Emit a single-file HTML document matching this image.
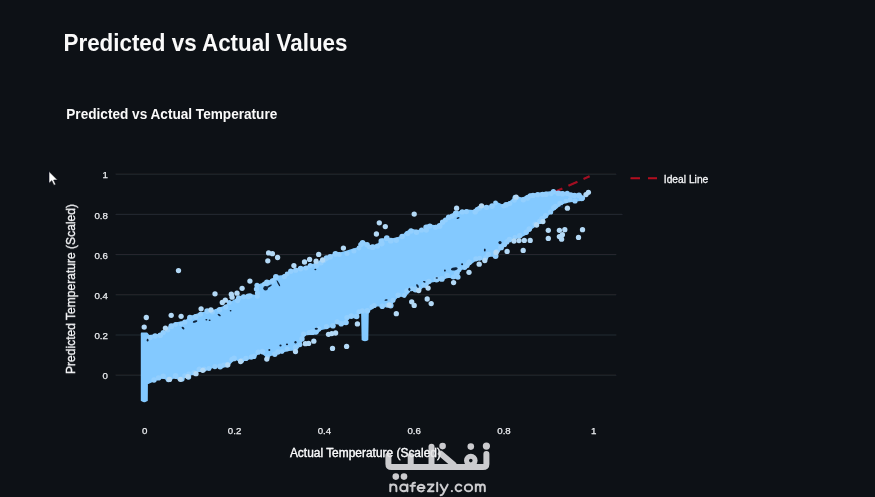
<!DOCTYPE html>
<html><head><meta charset="utf-8"><title>Predicted vs Actual Values</title>
<style>
html,body{margin:0;padding:0;background:#0d1116;}
body{width:875px;height:497px;overflow:hidden;font-family:"Liberation Sans",sans-serif;}
svg{display:block;}
text{font-family:"Liberation Sans",sans-serif;}
</style></head><body>
<svg width="875" height="497" viewBox="0 0 875 497">
<defs>
<filter id="soft" x="-5%" y="-5%" width="110%" height="110%"><feGaussianBlur stdDeviation="0.6"/></filter>
<filter id="soft2" x="-5%" y="-20%" width="110%" height="140%"><feGaussianBlur stdDeviation="0.4"/></filter>
<filter id="soft3" x="-5%" y="-50%" width="110%" height="200%"><feGaussianBlur stdDeviation="0.5"/></filter>
</defs>
<rect width="875" height="497" fill="#0d1116"/>
<!-- headings -->
<g filter="url(#soft2)">
<text x="63.5" y="50.8" font-size="24" font-weight="700" fill="#fafafa" textLength="284" lengthAdjust="spacingAndGlyphs">Predicted vs Actual Values</text>
<text x="66.3" y="118.7" font-size="14" font-weight="700" fill="#fafafa" textLength="211" lengthAdjust="spacingAndGlyphs">Predicted vs Actual Temperature</text>
</g>
<!-- grid -->
<g stroke="#272a31" stroke-width="1" filter="url(#soft3)"><line x1="115.6" x2="616.3" y1="375.2" y2="375.2"/><line x1="115.6" x2="616.3" y1="335.0" y2="335.0"/><line x1="115.6" x2="616.3" y1="294.8" y2="294.8"/><line x1="115.6" x2="616.3" y1="254.6" y2="254.6"/><line x1="115.6" x2="622.5" y1="214.4" y2="214.4"/><line x1="115.6" x2="616.3" y1="174.2" y2="174.2"/></g>
<!-- ideal line -->
<line x1="144.3" y1="375.2" x2="589.6" y2="176.3" stroke="#a31122" stroke-width="2.1" stroke-dasharray="9.9,6.6" stroke-dashoffset="14" filter="url(#soft3)"/>
<!-- scatter -->
<g filter="url(#soft)">
<g fill="#83c9ff"><polygon points="141.6,333.4 147.0,333.4 149.0,335.9 155.0,335.2 159.6,334.6 164.0,332.2 167.2,330.2 170.0,325.8 176.2,323.0 185.3,321.5 189.8,317.0 200.4,313.2 212.5,311.0 218.5,308.7 224.5,306.4 230.6,302.7 236.0,299.5 243.0,295.6 247.1,295.9 251.1,295.1 255.9,295.8 258.2,293.0 257.9,285.2 263.2,283.4 271.2,280.2 276.8,276.6 283.3,275.8 291.3,271.0 300.3,268.3 306.3,266.8 315.4,263.8 324.4,260.8 330.5,256.2 336.5,252.5 340.0,253.3 346.2,251.4 352.5,249.6 358.7,247.7 361.0,243.8 363.7,241.8 366.5,243.8 369.9,245.8 377.4,245.2 382.4,239.0 389.9,239.6 396.1,238.3 402.3,236.5 406.1,232.1 411.1,229.6 417.3,230.8 424.8,229.6 427.3,225.2 434.8,225.9 438.7,225.2 442.5,221.4 448.7,217.1 454.9,212.7 461.2,211.5 467.4,210.2 473.6,210.8 479.9,205.8 486.1,206.5 492.3,205.8 496.7,202.7 502.3,205.2 509.8,202.1 516.0,196.6 522.3,198.4 530.0,194.5 538.0,193.6 546.0,192.6 554.3,191.6 562.0,192.2 570.4,193.8 578.0,194.6 581.0,195.4 582.0,198.0 581.0,200.2 576.0,200.8 570.5,201.5 565.7,202.3 561.0,204.3 557.0,207.5 554.3,209.1 550.3,212.8 543.3,219.8 536.2,225.3 530.2,229.3 526.0,234.0 520.0,237.0 510.0,239.8 505.0,245.5 501.0,248.0 498.5,252.0 494.8,256.3 489.8,255.8 484.8,258.6 476.1,259.7 471.1,263.4 464.9,268.3 459.9,269.6 457.4,278.2 447.4,277.0 442.4,279.5 437.4,280.8 430.0,282.0 426.0,286.6 423.7,285.8 418.7,290.6 411.2,289.5 408.5,292.2 404.8,296.5 398.6,295.8 393.6,300.8 389.8,306.3 382.3,305.8 374.9,305.8 372.4,308.3 368.0,310.8 367.5,339.8 362.4,339.8 361.9,311.6 359.9,312.0 355.5,317.6 351.2,317.0 348.0,318.3 345.0,323.9 340.0,324.5 336.2,321.6 332.5,325.8 326.2,328.3 320.0,329.5 317.3,333.3 304.8,334.6 302.3,339.5 299.8,345.8 295.5,349.6 288.6,350.1 282.4,352.0 273.6,353.9 266.8,357.0 262.0,352.6 258.7,352.0 254.9,357.0 246.2,359.5 240.6,361.6 235.0,358.9 233.0,360.2 228.0,365.6 223.0,367.0 215.0,366.4 208.0,368.9 203.0,371.4 199.0,370.2 194.0,373.9 190.4,374.6 188.0,378.1 185.4,376.6 180.4,380.4 175.0,377.1 169.0,380.4 163.0,377.6 154.0,380.6 148.0,383.3 147.1,383.6 147.0,400.4 141.6,400.4" stroke="#83c9ff" stroke-width="1.6" stroke-linejoin="round"/>
<rect x="141.6" y="396" width="5.4" height="6.2" rx="2.6"/><rect x="362.4" y="335" width="5.1" height="6.2" rx="2.5"/>
</g>
<g fill="#93cffe"><circle cx="150.2" cy="337.6" r="2.6"/><circle cx="155.1" cy="336.0" r="2.7"/><circle cx="160.3" cy="335.2" r="2.8"/><circle cx="163.2" cy="332.5" r="2.6"/><circle cx="167.7" cy="330.2" r="2.4"/><circle cx="171.3" cy="326.2" r="2.9"/><circle cx="175.6" cy="324.5" r="2.4"/><circle cx="181.1" cy="323.9" r="2.4"/><circle cx="184.8" cy="322.1" r="2.6"/><circle cx="189.9" cy="317.6" r="2.8"/><circle cx="195.7" cy="316.8" r="2.7"/><circle cx="200.5" cy="314.3" r="2.5"/><circle cx="207.1" cy="311.1" r="2.8"/><circle cx="212.4" cy="312.0" r="2.5"/><circle cx="219.5" cy="309.7" r="2.6"/><circle cx="225.7" cy="307.1" r="2.6"/><circle cx="229.3" cy="302.6" r="2.5"/><circle cx="237.6" cy="300.6" r="2.6"/><circle cx="238.7" cy="297.9" r="2.7"/><circle cx="243.6" cy="296.7" r="2.5"/><circle cx="248.3" cy="296.4" r="2.8"/><circle cx="250.1" cy="295.8" r="2.5"/><circle cx="257.3" cy="296.3" r="2.5"/><circle cx="257.5" cy="293.0" r="2.6"/><circle cx="256.5" cy="289.1" r="2.7"/><circle cx="257.0" cy="285.3" r="2.6"/><circle cx="264.7" cy="284.2" r="2.8"/><circle cx="266.9" cy="282.3" r="2.8"/><circle cx="272.5" cy="280.9" r="2.7"/><circle cx="275.9" cy="277.0" r="2.9"/><circle cx="284.4" cy="276.6" r="2.6"/><circle cx="287.1" cy="273.9" r="2.4"/><circle cx="290.8" cy="271.3" r="2.7"/><circle cx="295.7" cy="270.2" r="2.6"/><circle cx="300.6" cy="268.6" r="2.8"/><circle cx="305.9" cy="267.9" r="2.5"/><circle cx="310.3" cy="265.4" r="2.5"/><circle cx="316.5" cy="265.3" r="2.9"/><circle cx="321.0" cy="262.8" r="2.7"/><circle cx="324.0" cy="260.5" r="2.5"/><circle cx="326.5" cy="258.1" r="2.8"/><circle cx="330.2" cy="256.7" r="2.8"/><circle cx="335.4" cy="253.9" r="2.8"/><circle cx="339.3" cy="254.5" r="2.5"/><circle cx="347.0" cy="253.4" r="2.5"/><circle cx="353.9" cy="251.0" r="2.5"/><circle cx="359.0" cy="248.0" r="2.4"/><circle cx="360.8" cy="244.6" r="2.6"/><circle cx="362.6" cy="242.8" r="2.8"/><circle cx="367.1" cy="244.8" r="2.7"/><circle cx="369.1" cy="247.1" r="2.4"/><circle cx="372.6" cy="247.2" r="2.9"/><circle cx="377.4" cy="246.1" r="2.7"/><circle cx="381.8" cy="243.6" r="2.8"/><circle cx="381.2" cy="241.0" r="2.7"/><circle cx="386.8" cy="238.2" r="2.9"/><circle cx="390.8" cy="240.7" r="2.9"/><circle cx="396.3" cy="240.2" r="2.7"/><circle cx="402.1" cy="236.5" r="2.8"/><circle cx="407.7" cy="233.6" r="2.7"/><circle cx="411.0" cy="231.0" r="2.7"/><circle cx="416.5" cy="232.2" r="2.7"/><circle cx="421.6" cy="230.0" r="2.6"/><circle cx="426.3" cy="230.1" r="2.7"/><circle cx="426.1" cy="227.3" r="2.8"/><circle cx="429.9" cy="226.1" r="2.7"/><circle cx="435.5" cy="227.3" r="2.6"/><circle cx="439.6" cy="225.9" r="2.9"/><circle cx="442.6" cy="222.2" r="2.7"/><circle cx="445.4" cy="220.0" r="2.5"/><circle cx="448.7" cy="217.3" r="2.8"/><circle cx="452.2" cy="216.1" r="2.7"/><circle cx="455.8" cy="213.5" r="2.9"/><circle cx="462.2" cy="211.9" r="2.6"/><circle cx="466.4" cy="211.6" r="2.6"/><circle cx="475.2" cy="211.8" r="2.8"/><circle cx="477.1" cy="209.4" r="2.5"/><circle cx="479.5" cy="208.2" r="2.5"/><circle cx="486.5" cy="207.4" r="2.6"/><circle cx="492.1" cy="206.1" r="2.8"/><circle cx="495.5" cy="203.0" r="2.4"/><circle cx="503.6" cy="206.2" r="2.4"/><circle cx="506.1" cy="204.8" r="2.8"/><circle cx="509.8" cy="203.4" r="2.5"/><circle cx="514.4" cy="200.2" r="2.5"/><circle cx="514.9" cy="197.5" r="2.4"/><circle cx="523.3" cy="199.7" r="2.7"/><circle cx="527.6" cy="197.8" r="2.9"/><circle cx="530.1" cy="195.7" r="2.5"/><circle cx="533.0" cy="195.4" r="2.6"/><circle cx="537.6" cy="194.7" r="2.6"/><circle cx="542.6" cy="194.5" r="2.7"/><circle cx="546.0" cy="194.3" r="2.8"/><circle cx="551.3" cy="193.8" r="2.4"/><circle cx="553.4" cy="191.7" r="2.6"/><circle cx="558.3" cy="193.3" r="2.9"/><circle cx="562.6" cy="193.7" r="2.8"/><circle cx="567.2" cy="193.4" r="2.6"/><circle cx="570.8" cy="195.0" r="2.8"/><circle cx="574.4" cy="195.5" r="2.8"/><circle cx="579.0" cy="195.3" r="2.9"/><circle cx="582.3" cy="198.1" r="2.8"/><circle cx="581.7" cy="198.6" r="2.6"/><circle cx="575.0" cy="201.0" r="2.6"/><circle cx="570.1" cy="199.6" r="2.4"/><circle cx="565.9" cy="201.1" r="2.4"/><circle cx="560.1" cy="203.6" r="2.8"/><circle cx="555.4" cy="206.3" r="2.5"/><circle cx="553.8" cy="207.7" r="2.7"/><circle cx="550.6" cy="212.0" r="2.6"/><circle cx="545.6" cy="215.8" r="2.7"/><circle cx="542.1" cy="218.9" r="2.8"/><circle cx="539.7" cy="221.4" r="2.7"/><circle cx="534.9" cy="224.0" r="2.6"/><circle cx="529.3" cy="229.1" r="2.8"/><circle cx="526.2" cy="232.2" r="2.7"/><circle cx="519.7" cy="235.7" r="2.7"/><circle cx="514.9" cy="237.3" r="2.4"/><circle cx="509.5" cy="239.6" r="2.8"/><circle cx="506.8" cy="241.9" r="2.6"/><circle cx="504.5" cy="244.6" r="2.6"/><circle cx="501.1" cy="247.4" r="2.9"/><circle cx="496.8" cy="251.3" r="2.6"/><circle cx="495.6" cy="256.0" r="2.9"/><circle cx="488.3" cy="254.5" r="2.7"/><circle cx="485.7" cy="257.7" r="2.5"/><circle cx="479.6" cy="258.2" r="2.5"/><circle cx="475.9" cy="258.8" r="2.6"/><circle cx="469.2" cy="262.2" r="2.8"/><circle cx="466.9" cy="265.6" r="2.7"/><circle cx="464.7" cy="267.3" r="2.6"/><circle cx="459.0" cy="269.4" r="2.6"/><circle cx="456.6" cy="273.5" r="2.7"/><circle cx="457.9" cy="277.1" r="2.7"/><circle cx="453.3" cy="277.1" r="2.5"/><circle cx="447.2" cy="275.5" r="2.8"/><circle cx="441.8" cy="278.9" r="2.9"/><circle cx="436.5" cy="279.5" r="2.9"/><circle cx="428.8" cy="281.5" r="2.8"/><circle cx="425.8" cy="285.5" r="2.4"/><circle cx="423.9" cy="285.3" r="2.5"/><circle cx="418.7" cy="289.1" r="2.7"/><circle cx="415.5" cy="289.5" r="2.9"/><circle cx="411.6" cy="288.8" r="2.5"/><circle cx="407.0" cy="290.9" r="2.7"/><circle cx="404.2" cy="295.5" r="2.4"/><circle cx="398.1" cy="295.2" r="2.7"/><circle cx="393.0" cy="300.3" r="2.5"/><circle cx="390.7" cy="305.5" r="2.9"/><circle cx="387.1" cy="305.4" r="2.4"/><circle cx="382.2" cy="306.2" r="2.8"/><circle cx="374.2" cy="305.5" r="2.6"/><circle cx="371.8" cy="306.9" r="2.4"/><circle cx="367.4" cy="310.8" r="2.8"/><circle cx="362.3" cy="310.9" r="2.6"/><circle cx="358.9" cy="311.8" r="2.5"/><circle cx="356.6" cy="316.5" r="2.8"/><circle cx="351.3" cy="316.1" r="2.8"/><circle cx="347.0" cy="317.6" r="2.7"/><circle cx="346.0" cy="322.5" r="2.8"/><circle cx="341.2" cy="323.7" r="2.8"/><circle cx="337.2" cy="321.8" r="2.6"/><circle cx="333.0" cy="325.8" r="2.8"/><circle cx="326.5" cy="326.6" r="2.6"/><circle cx="318.8" cy="328.9" r="2.6"/><circle cx="316.0" cy="332.1" r="2.6"/><circle cx="312.3" cy="332.2" r="2.9"/><circle cx="309.2" cy="332.5" r="2.6"/><circle cx="303.6" cy="334.0" r="2.6"/><circle cx="302.0" cy="338.9" r="2.7"/><circle cx="300.1" cy="344.8" r="2.4"/><circle cx="295.6" cy="347.6" r="2.8"/><circle cx="287.2" cy="349.1" r="2.5"/><circle cx="282.0" cy="351.6" r="2.4"/><circle cx="277.9" cy="352.0" r="2.7"/><circle cx="274.8" cy="354.2" r="2.7"/><circle cx="267.6" cy="356.9" r="2.4"/><circle cx="262.4" cy="351.6" r="2.8"/><circle cx="258.1" cy="352.2" r="2.6"/><circle cx="253.9" cy="356.4" r="2.6"/><circle cx="251.3" cy="357.1" r="2.6"/><circle cx="245.9" cy="358.4" r="2.7"/><circle cx="241.5" cy="360.4" r="2.7"/><circle cx="234.1" cy="358.4" r="2.8"/><circle cx="231.6" cy="359.5" r="2.4"/><circle cx="226.9" cy="364.7" r="2.8"/><circle cx="223.7" cy="365.0" r="2.4"/><circle cx="220.2" cy="366.5" r="2.9"/><circle cx="214.9" cy="366.6" r="2.6"/><circle cx="208.9" cy="368.5" r="2.5"/><circle cx="204.2" cy="369.1" r="2.6"/><circle cx="199.4" cy="369.2" r="2.8"/><circle cx="194.1" cy="372.7" r="2.6"/><circle cx="188.7" cy="373.9" r="2.4"/><circle cx="188.5" cy="377.0" r="2.7"/><circle cx="184.7" cy="375.8" r="2.5"/><circle cx="181.9" cy="379.1" r="2.7"/><circle cx="175.6" cy="376.0" r="2.9"/><circle cx="168.5" cy="379.5" r="2.8"/><circle cx="163.2" cy="376.2" r="2.7"/><circle cx="158.5" cy="377.9" r="2.7"/><circle cx="154.0" cy="380.0" r="2.7"/></g>
<g fill="#10233a"><ellipse cx="195.1" cy="321.5" rx="2.4" ry="1.0" transform="rotate(-20 195.1 321.5)"/><ellipse cx="183" cy="328.1" rx="1.6" ry="1.0" transform="rotate(40 183 328.1)"/><ellipse cx="219.2" cy="315" rx="1.8" ry="0.9" transform="rotate(35 219.2 315)"/><ellipse cx="206.4" cy="319.8" rx="1.0" ry="0.8" transform="rotate(0 206.4 319.8)"/><ellipse cx="209.6" cy="320.2" rx="1.0" ry="0.8" transform="rotate(0 209.6 320.2)"/><ellipse cx="230.6" cy="310.8" rx="0.9" ry="0.7" transform="rotate(0 230.6 310.8)"/><ellipse cx="147.6" cy="340.2" rx="0.9" ry="1.4" transform="rotate(0 147.6 340.2)"/><ellipse cx="265.6" cy="288.3" rx="2.3" ry="2.2" transform="rotate(0 265.6 288.3)"/><ellipse cx="269.2" cy="286.2" rx="3.0" ry="0.8" transform="rotate(-30 269.2 286.2)"/><ellipse cx="278.4" cy="283.3" rx="0.7" ry="3.4" transform="rotate(-28 278.4 283.3)"/><ellipse cx="315.4" cy="269.5" rx="1.0" ry="0.8" transform="rotate(0 315.4 269.5)"/><ellipse cx="458.1" cy="218" rx="1.5" ry="0.8" transform="rotate(-15 458.1 218)"/><ellipse cx="280.5" cy="345.5" rx="1.1" ry="0.9" transform="rotate(0 280.5 345.5)"/><ellipse cx="287" cy="344.3" rx="1.1" ry="0.9" transform="rotate(0 287 344.3)"/><ellipse cx="295.5" cy="342.2" rx="1.1" ry="1.3" transform="rotate(0 295.5 342.2)"/><ellipse cx="316.3" cy="328.7" rx="1.6" ry="1.0" transform="rotate(0 316.3 328.7)"/><ellipse cx="269.3" cy="349.9" rx="1.0" ry="1.0" transform="rotate(0 269.3 349.9)"/><ellipse cx="386.1" cy="300" rx="1.6" ry="0.8" transform="rotate(-10 386.1 300)"/><ellipse cx="444.9" cy="270.6" rx="0.9" ry="1.1" transform="rotate(0 444.9 270.6)"/><ellipse cx="462.1" cy="264.3" rx="1.0" ry="1.0" transform="rotate(0 462.1 264.3)"/><ellipse cx="484.8" cy="250" rx="0.9" ry="1.5" transform="rotate(0 484.8 250)"/><ellipse cx="436.8" cy="278" rx="1.2" ry="0.8" transform="rotate(0 436.8 278)"/><ellipse cx="424.3" cy="281.8" rx="1.3" ry="0.8" transform="rotate(20 424.3 281.8)"/><ellipse cx="417.5" cy="286.1" rx="1.0" ry="2.0" transform="rotate(-30 417.5 286.1)"/><ellipse cx="409.4" cy="289.3" rx="1.0" ry="1.6" transform="rotate(0 409.4 289.3)"/><ellipse cx="454.3" cy="268.9" rx="3.4" ry="1.5" transform="rotate(-10 454.3 268.9)"/><ellipse cx="500" cy="242.6" rx="1.6" ry="1.6" transform="rotate(0 500 242.6)"/><ellipse cx="561.8" cy="206.6" rx="1.5" ry="1.5" transform="rotate(0 561.8 206.6)"/></g>
<g fill="#b3d9f6"><circle cx="146.3" cy="317.5" r="2.65"/><circle cx="144.2" cy="327.1" r="2.65"/><circle cx="171.2" cy="315.3" r="2.65"/><circle cx="181.1" cy="316.3" r="2.65"/><circle cx="165.4" cy="328.1" r="2.65"/><circle cx="201.1" cy="308.8" r="2.65"/><circle cx="210.9" cy="310.0" r="2.65"/><circle cx="215.0" cy="293.8" r="2.65"/><circle cx="222.3" cy="302.5" r="2.65"/><circle cx="225.3" cy="300.2" r="2.65"/><circle cx="231.3" cy="294.2" r="2.65"/><circle cx="232.1" cy="297.2" r="2.65"/><circle cx="237.0" cy="293.2" r="2.65"/><circle cx="242.1" cy="288.3" r="2.65"/><circle cx="249.9" cy="281.1" r="2.65"/><circle cx="178.5" cy="270.6" r="2.65"/><circle cx="268.6" cy="252.9" r="2.65"/><circle cx="272.4" cy="253.7" r="2.65"/><circle cx="267.8" cy="260.8" r="2.65"/><circle cx="277.6" cy="257.5" r="2.65"/><circle cx="293.9" cy="265.6" r="2.65"/><circle cx="304.5" cy="262.0" r="2.65"/><circle cx="309.6" cy="259.4" r="2.65"/><circle cx="318.7" cy="254.4" r="2.65"/><circle cx="316.1" cy="261.2" r="2.65"/><circle cx="322.6" cy="260.0" r="2.65"/><circle cx="343.4" cy="248.1" r="2.65"/><circle cx="379.3" cy="222.8" r="2.65"/><circle cx="385.3" cy="226.6" r="2.65"/><circle cx="376.4" cy="234.0" r="2.65"/><circle cx="414.2" cy="214.1" r="2.65"/><circle cx="456.6" cy="208.2" r="2.65"/><circle cx="481.5" cy="205.8" r="2.65"/><circle cx="516.1" cy="197.2" r="2.65"/><circle cx="180.4" cy="379.3" r="2.65"/><circle cx="187.9" cy="376.6" r="2.65"/><circle cx="196.0" cy="373.7" r="2.65"/><circle cx="202.8" cy="370.3" r="2.65"/><circle cx="227.8" cy="364.8" r="2.65"/><circle cx="169.5" cy="379.4" r="2.65"/><circle cx="240.6" cy="361.5" r="2.65"/><circle cx="266.8" cy="359.1" r="2.65"/><circle cx="295.5" cy="351.6" r="2.65"/><circle cx="305.4" cy="343.7" r="2.65"/><circle cx="308.6" cy="343.4" r="2.65"/><circle cx="313.8" cy="341.2" r="2.65"/><circle cx="328.5" cy="334.3" r="2.65"/><circle cx="331.8" cy="333.6" r="2.65"/><circle cx="335.6" cy="333.0" r="2.65"/><circle cx="357.4" cy="323.9" r="2.65"/><circle cx="332.5" cy="348.4" r="2.65"/><circle cx="346.6" cy="346.4" r="2.65"/><circle cx="396.3" cy="313.7" r="2.65"/><circle cx="411.7" cy="301.8" r="2.65"/><circle cx="414.2" cy="305.4" r="2.65"/><circle cx="389.2" cy="305.0" r="2.65"/><circle cx="427.2" cy="299.0" r="2.65"/><circle cx="431.2" cy="303.6" r="2.65"/><circle cx="418.7" cy="290.6" r="2.65"/><circle cx="428.1" cy="288.1" r="2.65"/><circle cx="453.6" cy="282.6" r="2.65"/><circle cx="469.0" cy="272.3" r="2.65"/><circle cx="479.2" cy="264.2" r="2.65"/><circle cx="484.8" cy="260.5" r="2.65"/><circle cx="507.1" cy="251.4" r="2.65"/><circle cx="496.0" cy="252.4" r="2.65"/><circle cx="514.0" cy="241.0" r="2.65"/><circle cx="519.0" cy="240.6" r="2.65"/><circle cx="524.3" cy="240.4" r="2.65"/><circle cx="530.2" cy="240.4" r="2.65"/><circle cx="523.2" cy="250.4" r="2.65"/><circle cx="536.6" cy="225.0" r="2.65"/><circle cx="542.9" cy="221.6" r="2.65"/><circle cx="548.3" cy="230.3" r="2.65"/><circle cx="548.3" cy="238.4" r="2.65"/><circle cx="559.4" cy="230.3" r="2.65"/><circle cx="564.8" cy="229.7" r="2.65"/><circle cx="559.4" cy="236.6" r="2.65"/><circle cx="562.4" cy="234.7" r="2.65"/><circle cx="561.6" cy="239.2" r="2.65"/><circle cx="582.5" cy="229.7" r="2.65"/><circle cx="578.5" cy="237.4" r="2.65"/><circle cx="586.0" cy="194.6" r="2.65"/><circle cx="588.4" cy="192.3" r="2.65"/><circle cx="567.4" cy="208.2" r="2.65"/></g>
</g>
<!-- tick labels -->
<g font-size="9.7" fill="#eceef1" stroke="#eceef1" stroke-width="0.25" filter="url(#soft2)"><text x="107.9" y="379.3" text-anchor="end">0</text><text x="107.9" y="339.1" text-anchor="end">0.2</text><text x="107.9" y="298.9" text-anchor="end">0.4</text><text x="107.9" y="258.7" text-anchor="end">0.6</text><text x="107.9" y="218.5" text-anchor="end">0.8</text><text x="107.9" y="178.3" text-anchor="end">1</text><text x="144.8" y="433.7" text-anchor="middle">0</text><text x="234.6" y="433.7" text-anchor="middle">0.2</text><text x="324.4" y="433.7" text-anchor="middle">0.4</text><text x="414.2" y="433.7" text-anchor="middle">0.6</text><text x="504.0" y="433.7" text-anchor="middle">0.8</text><text x="593.8" y="433.7" text-anchor="middle">1</text></g>
<!-- legend -->
<g filter="url(#soft2)">
<line x1="630.5" x2="657" y1="178.2" y2="178.2" stroke="#b4101f" stroke-width="2" stroke-dasharray="9.5,8"/>
<text x="663.8" y="182.6" font-size="11" fill="#f4f5f7" stroke="#f4f5f7" stroke-width="0.3" textLength="44.5" lengthAdjust="spacingAndGlyphs">Ideal Line</text>
</g>
<!-- mouse cursor -->
<g transform="translate(49.0,171.4)" filter="url(#soft2)">
<path d="M0,0 L0,11.8 L2.8,9.3 L4.9,13.8 L6.7,13 L4.7,8.7 L8.5,8.5 Z" fill="#ffffff" stroke="#0e1117" stroke-width="0.6"/>
</g>
<!-- axis titles -->
<g font-size="12.5" fill="#f4f5f7" stroke="#f4f5f7" stroke-width="0.3" filter="url(#soft2)">
<text x="289.9" y="457" textLength="151" lengthAdjust="spacingAndGlyphs">Actual Temperature (Scaled)</text>
<text transform="translate(75,374.1) rotate(-90)" textLength="170" lengthAdjust="spacingAndGlyphs">Predicted Temperature (Scaled)</text>
</g>
<!-- watermark -->
<g filter="url(#soft2)" opacity="0.95">
<g fill="none" stroke="#d6d6d9" stroke-width="6" stroke-linecap="round" stroke-linejoin="round">
<path d="M486.4,454 L486.4,464 Q486.4,467 483,467 L391.5,467 Q388.4,467 388.4,464 L388.4,455.6"/>
<path d="M410.7,455.8 L410.7,466"/>
<path d="M431.5,446.8 L431.5,466"/>
<path d="M440.8,453.8 L453.5,464.5"/>
</g>
<circle cx="470.8" cy="460.6" r="4.3" fill="none" stroke="#d6d6d9" stroke-width="5"/>
<g fill="#d6d6d9">
<circle cx="486.4" cy="446.1" r="3.6"/><circle cx="470.8" cy="446.6" r="3.3"/><circle cx="442.6" cy="446.1" r="3.3"/>
<circle cx="395.8" cy="476.6" r="3.3"/><circle cx="404" cy="476.6" r="3.3"/>
<circle cx="451.9" cy="491.1" r="1.15"/>
</g>
<!-- nafezly.com lettering -->
<g fill="none" stroke="#d6d6d9" stroke-width="2" stroke-linecap="round" stroke-linejoin="round">
<path d="M390.3,491.3 V484.6 M390.3,487.7 Q390.3,484.6 393.35,484.6 Q396.4,484.6 396.4,487.7 V491.3"/>
<ellipse cx="403.7" cy="487.95" rx="3.5" ry="3.35"/><path d="M407.4,484.6 V491.3"/>
<path d="M412.4,491.3 V484.9 Q412.4,482.7 414.4,482.7 H415 M410.4,485.8 H415"/>
<path d="M417.6,487.95 H424.6 A3.5,3.35 0 1 0 423.6,490.4"/>
<path d="M427.9,484.6 H433.5 L427.9,491.3 H433.5"/>
<path d="M437.2,482.7 V491.3"/>
<path d="M440.5,484.6 L444.1,491.2 M447.7,484.6 L443,493.8 Q442.2,495.2 440.6,495.2"/>
<path d="M461.3,485.7 A3.3,3.35 0 1 0 461.3,490.2"/>
<ellipse cx="468.5" cy="487.95" rx="3.7" ry="3.35"/>
<path d="M475.8,491.3 V484.6 M475.8,487.2 Q475.8,484.6 478.05,484.6 Q480.3,484.6 480.3,487.2 V491.3 M480.3,487.2 Q480.3,484.6 482.55,484.6 Q484.8,484.6 484.8,487.2 V491.3"/>
</g>
</g>
<!-- axis title shows faintly through the translucent watermark -->
<g font-size="12.5" fill="#ffffff" stroke="#ffffff" stroke-width="0.3" filter="url(#soft2)" opacity="0.35">
<text x="289.9" y="457" textLength="151" lengthAdjust="spacingAndGlyphs">Actual Temperature (Scaled)</text>
</g>
</svg>
</body></html>
